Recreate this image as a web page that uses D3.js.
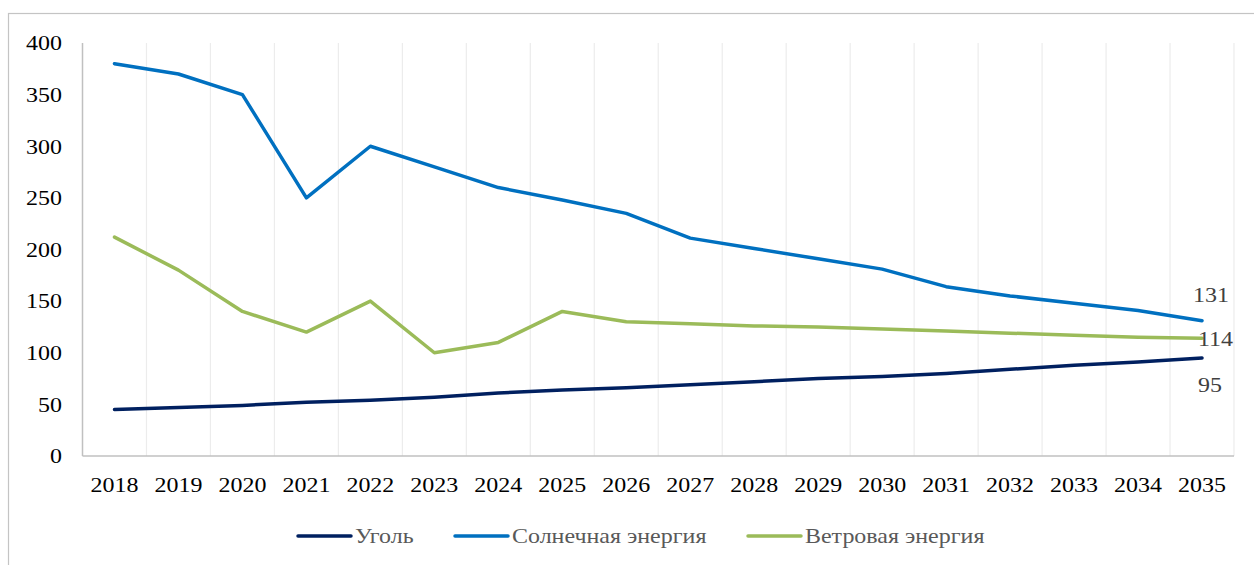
<!DOCTYPE html>
<html>
<head>
<meta charset="utf-8">
<script src="https://cdn.jsdelivr.net/npm/d3@7"></script>
<style>
  body { margin: 0; background: #fff; }
  text { font-family: "Liberation Serif", "Times New Roman", serif; }
</style>
</head>
<body>
<svg id="chart"></svg>
<script>
var years = ["2018","2019","2020","2021","2022","2023","2024","2025","2026",
             "2027","2028","2029","2030","2031","2032","2033","2034","2035"];
var coal  = [45, 47, 49, 52, 54, 57, 61, 64, 66, 69, 72, 75, 77, 80, 84, 88, 91, 95];
var solar = [380, 370, 350, 250, 300, 280, 260, 248, 235, 211, 201, 191, 181, 164, 155, 148, 141, 131];
var wind  = [212, 180, 140, 120, 150, 100, 110, 140, 130, 128, 126, 125, 123, 121, 119, 117, 115, 114];
var yTicks = [0, 50, 100, 150, 200, 250, 300, 350, 400];
var seriesNames = ["Уголь", "Солнечная энергия", "Ветровая энергия"];
var seriesColors = ["#002060", "#0070C0", "#9BBB59"];

var width = 1254, height = 565;
var stretch = 1.09; // the source text is a little wider than normal
var svg = d3.select("#chart").attr("width", width).attr("height", height);

// place a text at (px, py) while stretching it horizontally
function put(sel, px, py) {
  sel.attr("x", function(d, i){ return px(d, i) / stretch; })
     .attr("y", py)
     .attr("transform", "scale(" + stretch + ",1)");
}

// outer chart frame (right and bottom edges fall outside the picture)
svg.append("rect")
  .attr("x", 8.5).attr("y", 13.5)
  .attr("width", 1300).attr("height", 600)
  .style("fill", "none").style("stroke", "#c4c4c4").style("stroke-width", 1.2);

var x = d3.scaleBand().domain(years).range([82.5, 1234]).padding(0);
var y = d3.scaleLinear().domain([0, 400]).range([456, 43]);

// vertical gridlines between categories
svg.append("g").selectAll("line").data(years)
  .enter().append("line")
  .attr("x1", function(d){ return x(d) + x.bandwidth(); })
  .attr("x2", function(d){ return x(d) + x.bandwidth(); })
  .attr("y1", y(400)).attr("y2", y(0))
  .style("stroke", "#ececec").style("stroke-width", 1.2);

// axes lines
svg.append("line")
  .attr("x1", x.range()[0]).attr("x2", x.range()[0])
  .attr("y1", y(400)).attr("y2", y(0))
  .style("stroke", "#c0c0c0").style("stroke-width", 1.5);
svg.append("line")
  .attr("x1", x.range()[0]).attr("x2", x.range()[1])
  .attr("y1", y(0)).attr("y2", y(0))
  .style("stroke", "#c0c0c0").style("stroke-width", 1.5);

// y tick labels
svg.append("g").selectAll("text").data(yTicks)
  .enter().append("text")
  .call(put, function(){ return 62; }, function(d){ return y(d); })
  .attr("dy", "0.33em")
  .attr("text-anchor", "end")
  .style("font-size", "22px").style("fill", "#000")
  .text(function(d){ return d; });

// x tick labels
svg.append("g").selectAll("text").data(years)
  .enter().append("text")
  .call(put, function(d){ return x(d) + x.bandwidth() / 2; }, 492)
  .attr("text-anchor", "middle")
  .style("font-size", "22px").style("fill", "#000")
  .text(function(d){ return d; });

var line = d3.line()
  .x(function(d, i){ return x(years[i]) + x.bandwidth() / 2; })
  .y(function(d){ return y(d); });

[coal, solar, wind].forEach(function(s, k){
  svg.append("path")
    .datum(s)
    .attr("d", line)
    .style("fill", "none")
    .style("stroke", seriesColors[k])
    .style("stroke-width", 3.5)
    .style("stroke-linejoin", "round")
    .style("stroke-linecap", "round");
});

// end value labels
var lastX = x(years[years.length - 1]) + x.bandwidth() / 2;
var endLabels = [
  {v: solar[solar.length - 1], dx: 9, dy: -19, anchor: "middle"},
  {v: wind[wind.length - 1],   dx: -4, dy: 8,  anchor: "start"},
  {v: coal[coal.length - 1],   dx: 8, dy: 34,  anchor: "middle"}
];
svg.append("g").selectAll("text").data(endLabels)
  .enter().append("text")
  .call(put, function(d){ return lastX + d.dx; }, function(d){ return y(d.v) + d.dy; })
  .attr("text-anchor", function(d){ return d.anchor; })
  .style("font-size", "22px").style("fill", "#404040")
  .text(function(d){ return d.v; });

// legend
var legendX = [298, 455, 748];
var legend = svg.append("g").selectAll("g").data(seriesNames)
  .enter().append("g")
  .attr("transform", function(d, i){ return "translate(" + legendX[i] + ",536)"; });
legend.append("line")
  .attr("x1", 0).attr("x2", 53)
  .style("stroke", function(d, i){ return seriesColors[i]; })
  .style("stroke-width", 3.5).style("stroke-linecap", "round");
legend.append("text")
  .call(put, function(){ return 57; }, 0)
  .attr("dy", "0.33em")
  .style("font-size", "22px").style("fill", "#595959")
  .text(function(d){ return d; });
</script>
</body>
</html>
